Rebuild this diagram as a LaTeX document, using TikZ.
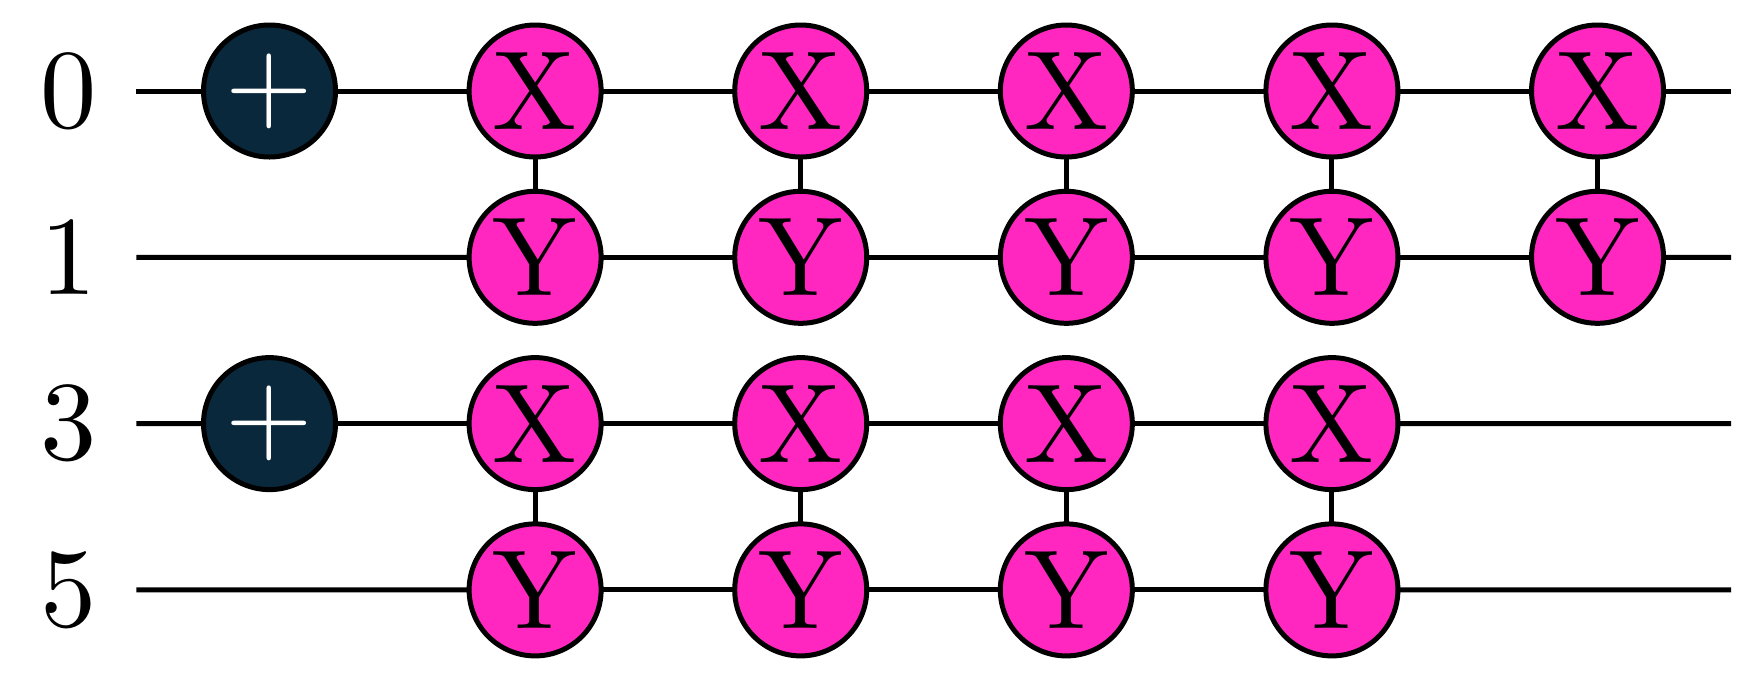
\documentclass[tikz,border=0pt]{standalone}
\usetikzlibrary{positioning}

\font\gatefont="[lmroman10-regular.otf]" at 32pt

\begin{document}
\begin{tikzpicture}[on grid]
        \tikzset{gate/.style={draw,
                shape=circle,
                line width=0.05cm,
                inner sep=0pt,
                outer sep=0pt,
                minimum size=1.32cm,
                font=\gatefont
            },
            xygate/.style={gate, fill=gatepink},
            plusgate/.style={gate, fill=gatenavy, text=white},
            wirelabel/.style={font=\gatefont},
        }
        \definecolor{gatepink}{HTML}{FF27BF}
        \definecolor{gatenavy}{HTML}{0A283C}
        \useasboundingbox (0,0) rectangle (17.39,6.8);
        \node [plusgate] (plus_a) at (2.695,5.89) {+};
        \node [xygate, right =2.656cm of plus_a] (x_a1) {X};
        \node [xygate, right =2.656cm of x_a1] (x_a2) {X};
        \node [xygate, right =2.656cm of x_a2] (x_a3) {X};
        \node [xygate, right =2.656cm of x_a3] (x_a4) {X};
        \node [xygate, right =2.656cm of x_a4] (x_a5) {X};
        \node [xygate, below =1.663cm of x_a1] (y_a1) {Y};
        \node [xygate, below =1.663cm of x_a2] (y_a2) {Y};
        \node [xygate, below =1.663cm of x_a3] (y_a3) {Y};
        \node [xygate, below =1.663cm of x_a4] (y_a4) {Y};
        \node [xygate, below =1.663cm of x_a5] (y_a5) {Y};
        \node [xygate, below =1.663cm of y_a1] (x_b1) {X};
        \node [xygate, below =1.663cm of y_a2] (x_b2) {X};
        \node [xygate, below =1.663cm of y_a3] (x_b3) {X};
        \node [xygate, below =1.663cm of y_a4] (x_b4) {X};
        \node [plusgate, left =2.656cm of x_b1] (plus_b) {+};
        \node [xygate, below =1.663cm of x_b1] (y_b1) {Y};
        \node [xygate, below =1.663cm of x_b2] (y_b2) {Y};
        \node [xygate, below =1.663cm of x_b3] (y_b3) {Y};
        \node [xygate, below =1.663cm of x_b4] (y_b4) {Y};
%% wire ends
        \coordinate (start0) at (1.364,5.89);
        \coordinate (start1) at (1.364,4.227);
        \coordinate (start3) at (1.364,2.564);
        \coordinate (start5) at (1.364,0.901);
        \coordinate (end0) at (17.31,5.89);
        \coordinate (end1) at (17.31,4.227);
        \coordinate (end3) at (17.31,2.564);
        \coordinate (end5) at (17.31,0.901);
%% labels
        \node [wirelabel, left =0.27cm of start0] (label0) {0};
        \node [wirelabel, left =0.27cm of start1] (label1) {1};
        \node [wirelabel, left =0.27cm of start3] (label3) {3};
        \node [wirelabel, left =0.27cm of start5] (label5) {5};
%% paths
\path[draw, line width=0.05cm] 
    (start0) edge (plus_a)
    (plus_a) edge (x_a1)
    (x_a1) edge (x_a2)
    (x_a2) edge (x_a3)
    (x_a3) edge (x_a4)
    (x_a4) edge (x_a5)
    (x_a5) edge (end0)
    (start1) edge (y_a1)
    (y_a1) edge (y_a2)
    (y_a2) edge (y_a3)
    (y_a3) edge (y_a4)
    (y_a4) edge (y_a5)
    (y_a5) edge (end1)
    (start3) edge (plus_b)
    (plus_b) edge (x_b1)
    (x_b1) edge (x_b2)
    (x_b2) edge (x_b3)
    (x_b3) edge (x_b4)
    (x_b4) edge (end3)
    (start5) edge (y_b1)
    (y_b1) edge (y_b2)
    (y_b2) edge (y_b3)
    (y_b3) edge (y_b4)
    (y_b4) edge (end5)
    (x_a1) edge (y_a1)
    (x_a2) edge (y_a2)
    (x_a3) edge (y_a3)
    (x_a4) edge (y_a4)
    (x_a5) edge (y_a5)
    (x_b1) edge (y_b1)
    (x_b2) edge (y_b2)
    (x_b3) edge (y_b3)
    (x_b4) edge (y_b4)
;
\end{tikzpicture}
\end{document}
